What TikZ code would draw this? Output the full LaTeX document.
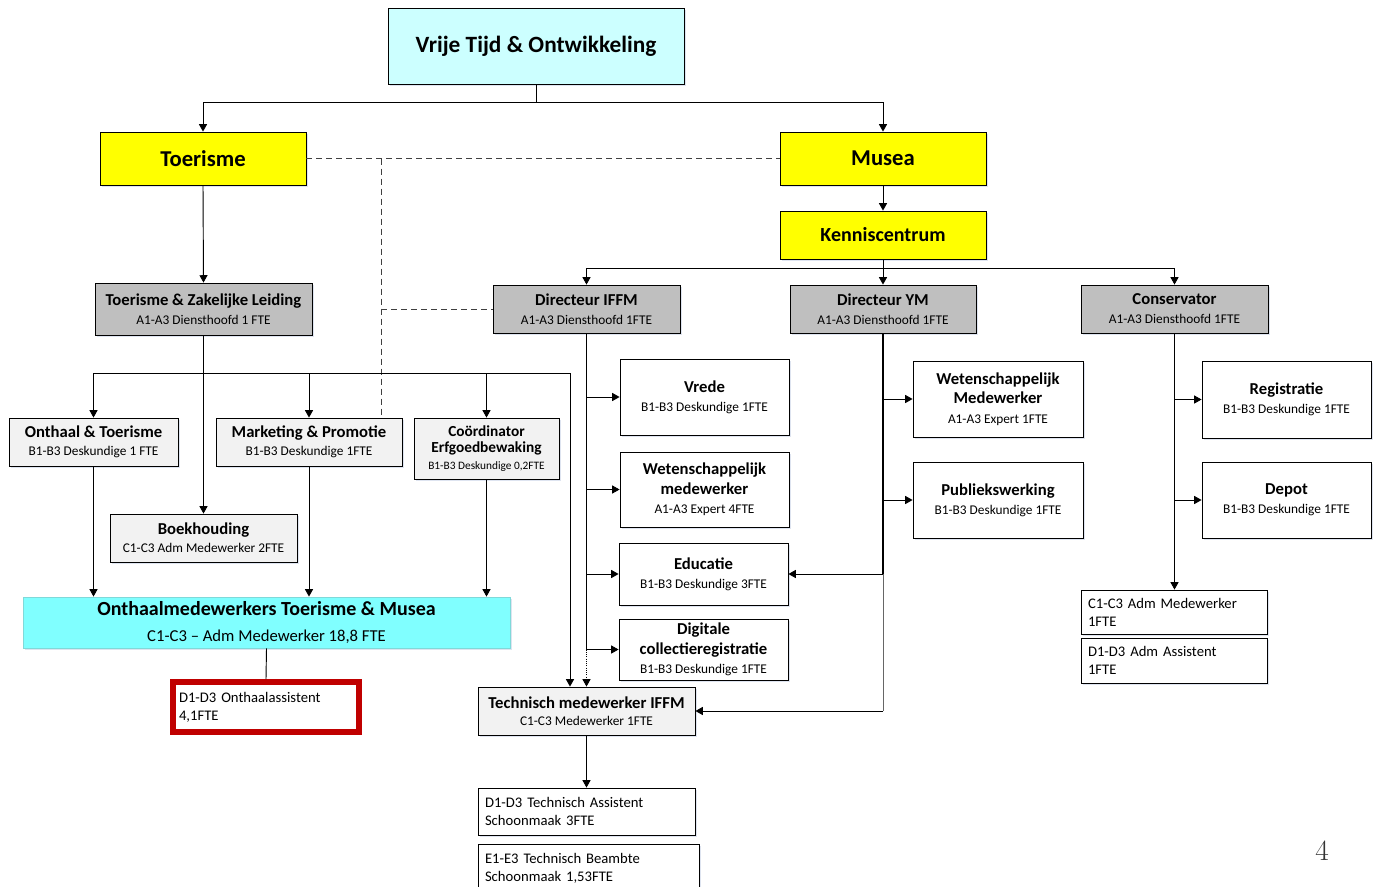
\documentclass[tikz,border=0pt]{standalone}
\usepackage{fontspec}
\setmainfont{Carlito}
\newfontfamily\pnumfont{Latin Modern Roman}
\usetikzlibrary{arrows.meta,shadows}
\definecolor{topc}{HTML}{CCFFFF}
\definecolor{yel}{HTML}{FFFF00}
\definecolor{grayc}{HTML}{BFBFBF}
\definecolor{lgray}{HTML}{F2F2F2}
\definecolor{cyanc}{HTML}{80FFFF}
\definecolor{redc}{HTML}{C00000}
\definecolor{shad}{HTML}{C9D3E6}
\newcommand\ttlx[1]{{\fontsize{12.5}{14}\selectfont\bfseries #1}}
\newcommand\subx[1]{{\fontsize{10}{12}\selectfont #1}}
\tikzset{
  sz/.style 2 args={minimum width=#1*0.75pt, minimum height=#2*0.75pt},
  box/.style={draw=black, line width=0.65pt, inner sep=0pt, align=center,
     font=\fontsize{10}{14.25}\selectfont,
     drop shadow={shadow xshift=1.3pt, shadow yshift=-1.3pt, fill=shad, opacity=0.6}},
  lbox/.style={box, align=left, inner xsep=5.25pt, font=\fontsize{11}{13.5}\selectfont},
  ln/.style={line width=0.7pt, draw=black},
  thickln/.style={line width=1.4pt, draw=black},
  arr/.style={ln, -{Triangle[length=5.5pt,width=6pt]}},
  dashln/.style={line width=0.7pt, draw=black!75, dash pattern=on 4.5pt off 3pt},
}
\begin{document}
\begin{tikzpicture}[x=0.75pt,y=-0.75pt]
\fill[white] (0,0) rectangle (1378,886);
\useasboundingbox (0,0) rectangle (1378,886);

% top level
\node[box, fill=topc, sz={296}{76}, font=\fontsize{17.5}{21}\selectfont\bfseries] (top) at (536,46) {Vrije Tijd \& Ontwikkeling};
\node[box, fill=yel, sz={206}{53}, font=\fontsize{17}{20}\selectfont\bfseries] (toer) at (203,158.5) {Toerisme};
\node[box, fill=yel, sz={206}{53}, font=\fontsize{17}{20}\selectfont\bfseries] (musea) at (883,158.5) {Musea};
\node[box, fill=yel, sz={206}{48}, font=\fontsize{15}{18}\selectfont\bfseries] (kenn) at (883,235) {Kenniscentrum};

% gray heads
\node[box, fill=grayc, sz={217}{52}] (tzl) at (203.5,309) {\ttlx{Toerisme \& Zakelijke Leiding}\\\subx{A1-A3 Diensthoofd 1 FTE}};
\node[box, fill=grayc, sz={187}{48}] (dIFFM) at (586.5,309) {\ttlx{Directeur IFFM}\\\subx{A1-A3 Diensthoofd 1FTE}};
\node[box, fill=grayc, sz={186}{48}] (dYM) at (883,309) {\ttlx{Directeur YM}\\\subx{A1-A3 Diensthoofd 1FTE}};
\node[box, fill=grayc, sz={187}{48}] (cons) at (1174.5,309) {\ttlx{Conservator}\\\subx{A1-A3 Diensthoofd 1FTE}};

% toerisme branch
\node[box, fill=lgray, sz={169}{48}, font=\fontsize{10}{13.5}\selectfont] (onth) at (93.5,442) {\ttlx{Onthaal \& Toerisme}\\\subx{B1-B3 Deskundige 1 FTE}};
\node[box, fill=lgray, sz={186}{48}, font=\fontsize{10}{13.5}\selectfont] (mark) at (309,442) {\ttlx{Marketing \& Promotie}\\\subx{B1-B3 Deskundige 1FTE}};
\node[box, fill=lgray, sz={145}{61}, font=\fontsize{9}{12.5}\selectfont] (coord) at (486.5,448.5) {{\fontsize{11.5}{13}\selectfont\bfseries Coördinator}\\{\fontsize{11.5}{13}\selectfont\bfseries Erfgoedbewaking}\\{\fontsize{8.5}{10}\selectfont B1-B3 Deskundige 0,2FTE}};
\node[box, fill=lgray, sz={187}{48}, font=\fontsize{10}{13.5}\selectfont] (boek) at (203.5,538) {\ttlx{Boekhouding}\\\subx{C1-C3 Adm Medewerker 2FTE}};
\node[box, fill=cyanc, draw=cyanc!70!gray, sz={487}{51}, font=\fontsize{12.5}{19.5}\selectfont] (omw) at (266.5,622.5) {{\fontsize{15}{18}\selectfont\bfseries Onthaalmedewerkers Toerisme \& Musea}\\C1-C3 -- Adm Medewerker 18,8 FTE};
\node[lbox, fill=white, draw=redc, line width=4.5pt, sz={186}{50}, inner xsep=4.5pt, text width=130.5pt] (red) at (266,707) {D1-D3 Onthaalassistent\\4,1FTE};

% IFFM branch
\node[box, fill=white, sz={169}{76}] (vrede) at (704.5,397) {\ttlx{Vrede}\\\subx{B1-B3 Deskundige 1FTE}};
\node[box, fill=white, sz={169}{75}, font=\fontsize{10}{14.5}\selectfont] (wm1) at (704.5,489.5) {\ttlx{Wetenschappelijk}\\\ttlx{medewerker}\\\subx{A1-A3 Expert 4FTE}};
\node[box, fill=white, sz={169}{62}] (edu) at (703.5,574) {\ttlx{Educatie}\\\subx{B1-B3 Deskundige 3FTE}};
\node[box, fill=white, sz={169}{61}, font=\fontsize{10}{14.5}\selectfont] (dig) at (703.5,649.5) {\ttlx{Digitale}\\\ttlx{collectieregistratie}\\\subx{B1-B3 Deskundige 1FTE}};
\node[box, fill=lgray, sz={217}{48}, font=\fontsize{10}{13}\selectfont] (tech) at (586.5,711) {\ttlx{Technisch medewerker IFFM}\\\subx{C1-C3 Medewerker 1FTE}};
\node[lbox, fill=white, sz={217}{47}, text width=152.25pt] (ta) at (586.5,811.5) {D1-D3 Technisch Assistent\\Schoonmaak 3FTE};
\node[lbox, fill=white, sz={221}{48}, text width=155.25pt] (tb) at (588.5,868) {E1-E3 Technisch Beambte\\Schoonmaak 1,53FTE};

% YM branch
\node[box, fill=white, sz={170}{76}, font=\fontsize{10}{14.5}\selectfont] (wm2) at (998,399) {\ttlx{Wetenschappelijk}\\\ttlx{Medewerker}\\\subx{A1-A3 Expert 1FTE}};
\node[box, fill=white, sz={170}{76}] (pub) at (998,500) {\ttlx{Publiekswerking}\\\subx{B1-B3 Deskundige 1FTE}};

% Conservator branch
\node[box, fill=white, sz={169}{77}] (reg) at (1286.5,399.5) {\ttlx{Registratie}\\\subx{B1-B3 Deskundige 1FTE}};
\node[box, fill=white, sz={169}{76}] (depot) at (1286.5,500) {\ttlx{Depot}\\\subx{B1-B3 Deskundige 1FTE}};
\node[lbox, fill=white, sz={186}{44}, text width=129pt] (adm1) at (1174,612) {C1-C3 Adm Medewerker\\1FTE};
\node[lbox, fill=white, sz={186}{45}, text width=129pt] (adm2) at (1174,660.5) {D1-D3 Adm Assistent\\1FTE};

% page number
\node[font=\pnumfont\fontsize{22}{22}\selectfont, text=black!80] (pg) at (1322,851) {4};

% connectors
\coordinate (b0) at (536,102);
\draw[ln] (top.south) -- (b0);
\draw[arr] (b0) -| (toer.north);
\draw[arr] (b0) -| (musea.north);

\draw[dashln] (toer.east) -- (musea.west);
\coordinate (dv) at (381,158.5);
\draw[dashln] (dv) -- (dv |- mark.north);
\coordinate (dh) at (381,309);
\draw[dashln] (dh) -- (dIFFM.west);

\draw[arr] (musea.south) -- (kenn.north);
\coordinate (b1) at (883,268);
\draw[ln] (kenn.south) -- (b1);
\draw[arr] (b1) -| (dIFFM.north);
\draw[arr] (b1) -| (cons.north);
\draw[arr] (b1) -- (dYM.north);

\draw[arr] (toer.south) -- (tzl.north);
\draw[arr] (tzl.south) -- (boek.north);
\coordinate (b2) at (203.5,373);
\coordinate (t1) at (570,373);
\draw[arr] (b2) -| (onth.north);
\draw[arr] (b2) -| (mark.north);
\draw[arr] (b2) -| (coord.north);
\draw[arr] (b2) -- (t1) -- (t1 |- tech.north);

\draw[arr] (onth.south) -- (onth.south |- omw.north);
\draw[arr] (mark.south) -- (mark.south |- omw.north);
\draw[arr] (coord.south) -- (coord.south |- omw.north);
\draw[ln] (omw.south) -- (red.north);

\coordinate (i4) at (dIFFM.south |- dig.west);
\draw[ln] (dIFFM.south) -- (i4);
\draw[arr, densely dotted] (i4) -- (dIFFM.south |- tech.north);
\draw[arr] (dIFFM.south |- vrede.west) -- (vrede.west);
\draw[arr] (dIFFM.south |- wm1.west) -- (wm1.west);
\draw[arr] (dIFFM.south |- edu.west) -- (edu.west);
\draw[arr] (i4) -- (dig.west);

\coordinate (y3) at (dYM.south |- edu.east);
\coordinate (y4) at (dYM.south |- tech.east);
\draw[thickln] (dYM.south) -- (y3);
\draw[ln, draw=black!60] (y3) -- (y4);
\draw[arr] (y4) -- (tech.east);
\draw[arr] (y3) -- (edu.east);
\draw[arr] (dYM.south |- wm2.west) -- (wm2.west);
\draw[arr] (dYM.south |- pub.west) -- (pub.west);

\draw[arr] (cons.south) -- (cons.south |- adm1.north);
\draw[arr] (cons.south |- reg.west) -- (reg.west);
\draw[arr] (cons.south |- depot.west) -- (depot.west);

\draw[arr] (tech.south) -- (ta.north);
\end{tikzpicture}
\end{document}
